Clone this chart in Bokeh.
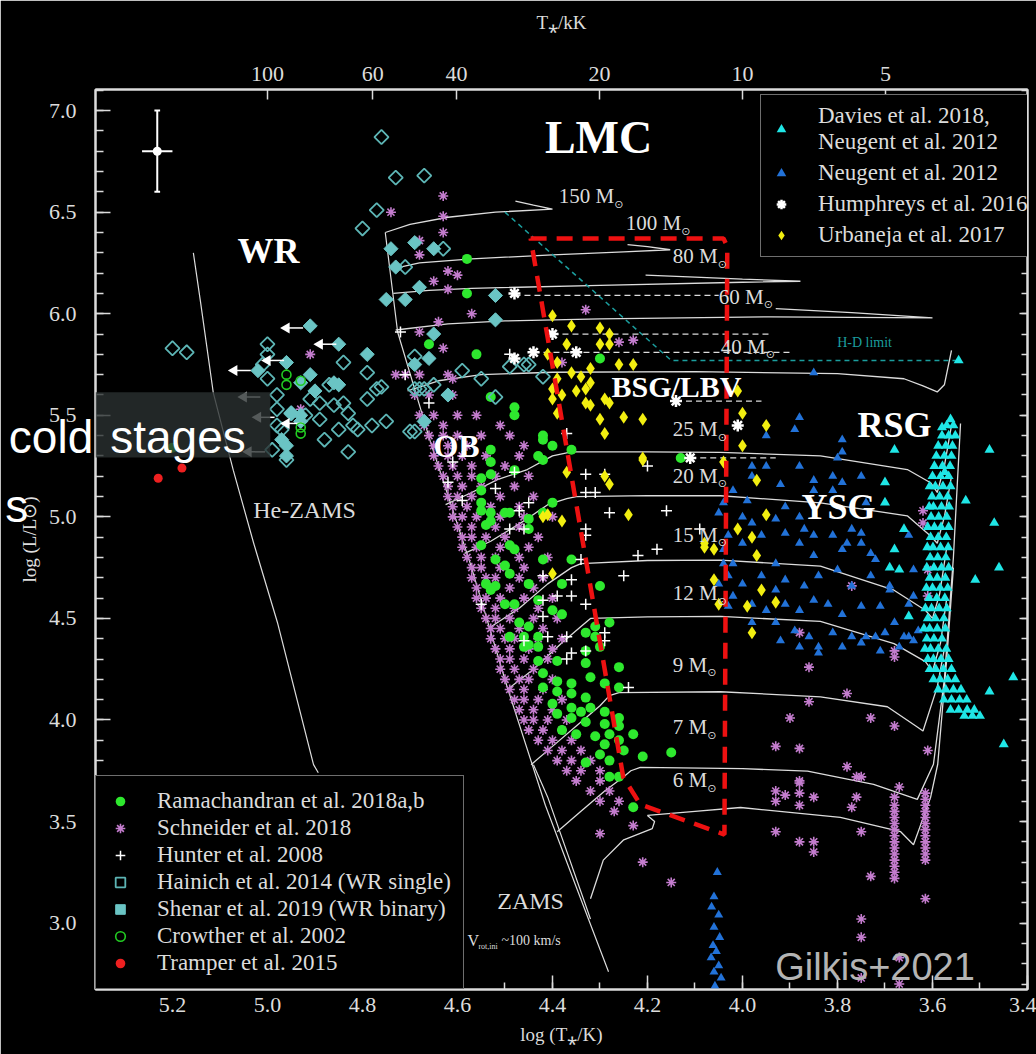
import numpy as np
from bokeh.plotting import figure
from bokeh.models import (Range1d, LinearAxis, FixedTicker, SingleIntervalTicker,
                          PrintfTickFormatter, Legend, LegendItem, Label, BoxAnnotation)
from bokeh.core.properties import value
from bokeh.embed import file_html
from bokeh.resources import INLINE

SERIF = "Liberation Serif"
SANS = "Liberation Sans"
FG = "#dcdcdc"

# ---------------- data (log Teff, log L) ----------------
ramachandran = [(4.48,5.50),(4.53,5.33),(4.53,5.27),(4.53,5.21),(4.55,5.19),(4.55,5.13),(4.55,5.07),
    (4.55,5.03),(4.53,5.02),(4.50,5.02),(4.49,5.02),(4.53,4.98),(4.54,4.96),(4.42,5.38),(4.40,5.35),
    (4.36,5.33),(4.42,5.28),(4.48,5.23),(4.40,5.07),(4.42,5.02),(4.45,4.99),(4.45,4.94),(4.55,4.86),
    (4.49,4.86),(4.48,4.84),(4.52,4.79),(4.50,4.76),(4.49,4.72),(4.54,4.67),(4.52,4.66),(4.53,4.64),
    (4.42,4.79),(4.36,4.79),(4.45,4.67),(4.38,4.67),(4.30,4.66),(4.43,4.59),(4.50,4.57),(4.48,4.57),
    (4.40,4.54),(4.38,4.52),(4.47,4.48),(4.45,4.46),(4.49,4.41),(4.46,4.41),(4.43,4.41),(4.46,4.36),
    (4.43,4.36),(4.31,4.46),(4.28,4.48),(4.33,4.43),(4.31,4.41),(4.33,4.34),(4.45,4.37),(4.30,4.36),
    (4.43,4.29),(4.39,4.29),(4.33,4.28),(4.26,4.26),(4.42,4.23),(4.39,4.19),(4.36,4.18),(4.32,4.21),
    (4.29,4.18),(4.26,4.16),(4.42,4.16),(4.39,4.14),(4.36,4.13),(4.33,4.11),(4.40,4.08),(4.36,4.06),
    (4.34,4.04),(4.32,4.06),(4.29,4.04),(4.39,4.03),(4.36,4.01),(4.33,3.99),(4.29,3.98),(4.26,4.01),
    (4.26,3.97),(4.38,3.95),(4.35,3.93),(4.31,3.92),(4.28,3.93),(4.23,3.93),(4.26,3.90),(4.29,3.88),
    (4.30,3.83),(4.33,3.79),(4.28,3.80),(4.21,3.82),(4.25,3.85),(4.15,3.84),(4.28,3.72),(4.26,3.72),
    (4.23,3.57),(4.30,5.78),(4.42,5.40),(4.43,5.30),(4.13,5.29),(4.58,6.27),(4.58,6.10),(4.66,5.85),
    (4.56,5.80),(4.53,5.59),(4.48,5.54),(5.20,5.34)]

schneider = [(4.71,5.70),(4.68,5.70),(4.62,5.70),(4.69,5.60),(4.66,5.60),(4.61,5.60),
    (4.68,5.50),(4.65,5.50),(4.60,5.50),(4.56,5.50),(4.67,5.45),(4.63,5.45),(4.51,5.45),
    (4.66,5.40),(4.63,5.40),(4.60,5.40),(4.55,5.40),(4.49,5.40),(4.65,5.35),(4.62,5.35),(4.58,5.35),(4.46,5.35),
    (4.65,5.30),(4.62,5.30),(4.59,5.30),(4.54,5.30),(4.47,5.30),(4.64,5.25),(4.61,5.25),(4.57,5.25),(4.50,5.25),
    (4.63,5.20),(4.60,5.20),(4.57,5.20),(4.52,5.20),(4.45,5.20),(4.62,5.15),(4.59,5.15),(4.55,5.15),(4.48,5.15),
    (4.62,5.10),(4.60,5.10),(4.57,5.10),(4.51,5.10),(4.44,5.10),(4.61,5.05),(4.58,5.05),(4.53,5.05),(4.47,5.05),
    (4.61,5.00),(4.59,5.00),(4.56,5.00),(4.51,5.00),(4.46,5.00),(4.40,5.00),(4.60,4.95),(4.57,4.95),(4.52,4.95),(4.47,4.95),
    (4.59,4.90),(4.57,4.90),(4.54,4.90),(4.50,4.90),(4.43,4.90),(4.59,4.85),(4.56,4.85),(4.51,4.85),(4.45,4.85),
    (4.58,4.80),(4.55,4.80),(4.52,4.80),(4.47,4.80),(4.41,4.80),(4.57,4.75),(4.55,4.75),(4.51,4.75),(4.46,4.75),
    (4.57,4.70),(4.54,4.70),(4.52,4.70),(4.47,4.70),(4.42,4.70),(4.56,4.65),(4.53,4.65),(4.49,4.65),(4.44,4.65),
    (4.56,4.60),(4.54,4.60),(4.51,4.60),(4.46,4.60),(4.40,4.60),(4.55,4.55),(4.52,4.55),(4.48,4.55),(4.43,4.55),
    (4.54,4.50),(4.52,4.50),(4.49,4.50),(4.44,4.50),(4.39,4.50),(4.53,4.45),(4.51,4.45),(4.47,4.45),(4.42,4.45),
    (4.53,4.40),(4.50,4.40),(4.48,4.40),(4.43,4.40),(4.38,4.40),(4.52,4.35),(4.49,4.35),(4.45,4.35),(4.40,4.35),
    (4.51,4.30),(4.49,4.30),(4.46,4.30),(4.41,4.30),(4.51,4.25),(4.48,4.25),(4.44,4.25),
    (4.50,4.20),(4.47,4.20),(4.45,4.20),(4.40,4.20),(4.49,4.15),(4.46,4.15),(4.42,4.15),
    (4.48,4.10),(4.46,4.10),(4.43,4.10),(4.38,4.10),(4.47,4.05),(4.44,4.05),(4.40,4.05),
    (4.46,4.00),(4.44,4.00),(4.41,4.00),(4.37,4.00),(4.45,3.95),(4.42,3.95),(4.38,3.95),
    (4.43,3.90),(4.40,3.90),(4.36,3.90),(4.41,3.85),(4.38,3.85),(4.34,3.85),(4.39,3.80),(4.36,3.80),(4.32,3.80),
    (4.37,3.75),(4.34,3.75),(4.30,3.75),(4.35,3.70),(4.30,3.70),(4.32,3.65),(4.28,3.65),(4.30,3.60),(4.26,3.60),
    (4.27,3.55),(4.23,3.48),(4.30,3.44),(4.21,3.30),(4.15,3.20),
    (4.63,6.58),(4.63,6.48),(4.63,6.40),(4.74,6.50),(4.68,6.36),(4.68,6.29),(4.62,6.21),(4.60,6.19),
    (4.62,6.12),(4.65,6.16),(4.57,6.00),(4.64,5.96),(4.68,5.91),(4.63,5.83),(4.73,5.70),(4.61,5.68),
    (4.33,6.02),(4.23,5.87),(4.26,5.86),(4.38,5.76),(4.91,5.80),(4.93,5.53),
    (3.77,4.66),(3.86,4.26),(3.88,4.43),(3.68,4.34),(3.68,4.31),(3.62,5.03),(3.62,4.97),(3.61,4.74),
    (3.61,4.61),(3.78,4.13),(3.86,4.09),(3.73,4.01),(3.90,4.01),(3.68,3.97),(3.93,3.87),(3.88,3.86),
    (3.78,3.77),(3.61,3.85),(3.75,3.72),(3.88,3.70),(3.93,3.65),(3.88,3.69),(3.88,3.64),(3.88,3.58),
    (3.85,3.62),(3.91,3.63),(3.93,3.60),(3.76,3.72),(3.76,3.62),(3.77,3.57),(3.67,3.67),(3.93,3.45),
    (3.88,3.40),(3.85,3.40),(3.85,3.35),(3.75,3.45),(3.73,3.23),(3.75,3.02),(3.75,2.93),(3.75,2.73),
    (3.67,2.70),(3.67,2.83),
    (3.68,3.62),(3.68,3.58),(3.68,3.55),(3.68,3.52),(3.68,3.49),(3.68,3.46),(3.68,3.43),(3.68,3.40),
    (3.68,3.37),(3.68,3.34),(3.68,3.31),(3.68,3.28),(3.68,3.25),(3.68,3.22),
    (3.615,3.64),(3.615,3.61),(3.615,3.58),(3.615,3.55),(3.615,3.52),(3.615,3.49),(3.615,3.46),
    (3.615,3.43),(3.615,3.40),(3.615,3.37),(3.615,3.34),(3.615,3.31),(3.615,3.12)]

hunter = [(4.37,5.41),(4.33,5.21),(4.29,5.21),(4.33,5.12),(4.31,5.12),(4.28,5.02),(4.16,5.03),
    (4.20,5.25),(4.33,4.94),(4.33,4.91),(4.18,4.84),(4.22,4.81),(4.25,4.71),(4.34,4.79),(4.36,4.69),
    (4.39,4.61),(4.36,4.61),(4.33,4.57),(4.42,4.51),(4.29,4.43),(4.29,4.39),(4.37,4.41),(4.41,4.41),
    (4.46,4.39),(4.49,4.94),(4.47,5.03),(4.48,5.22),(4.52,5.14),(4.62,5.17),(4.59,5.08),(4.61,5.27),
    (4.45,5.07),(4.46,4.94),(4.42,4.71),(4.55,4.57),(4.09,4.94),(4.33,4.34),(4.36,4.33),(4.24,4.16),
    (4.72,5.91),(4.71,5.70),(4.49,5.80),(4.66,5.56),(4.42,4.59),(4.37,4.30)]

hainich = [(4.76,6.87),(4.73,6.67),(4.67,6.68),(4.77,6.51),(4.80,6.42),(4.63,6.32),(4.71,6.23),
    (5.20,5.83),(5.17,5.81),(5.00,5.85),(5.00,5.80),(5.01,5.75),(5.00,5.68),(4.84,5.76),(4.79,5.71),
    (4.77,5.63),(4.79,5.58),(4.84,5.56),(4.83,5.51),(4.89,5.48),(4.88,5.38),(4.83,5.32),(4.85,5.43),
    (4.81,5.43),(4.78,5.45),(4.69,5.63),(4.67,5.63),(4.65,5.65),(4.69,5.42),(4.59,5.72),(4.55,5.68),
    (4.98,5.60),(4.98,5.53),(4.97,5.43),(4.96,5.28),(4.99,5.33),(4.91,5.58),(4.89,5.56),(4.86,5.55),
    (4.92,5.50),(4.95,5.51),(4.98,5.45),(4.87,5.65),(4.82,5.45),(4.49,5.74),(4.45,5.75),(4.69,5.79),
    (4.68,5.63),(4.76,5.64),(4.52,5.59),(4.75,5.47),(4.70,5.42),(4.46,5.75),(4.42,5.69)]

shenar = [(4.91,5.94),(4.85,5.85),(4.79,5.80),(4.96,5.76),(4.91,5.70),(4.93,5.66),(4.90,5.62),
    (4.86,5.66),(4.95,5.51),(4.93,5.47),(4.97,5.38),(4.96,5.30),(5.02,5.72),(4.85,5.65),(4.93,5.50),
    (4.96,5.35),(4.75,6.07),(4.71,6.07),(4.68,6.13),(4.65,5.90),(4.66,5.78),(4.69,5.75),(4.62,5.60),
    (4.67,5.47),(4.74,6.32),(4.69,6.35),(4.65,6.32),(4.73,6.23),(4.52,6.09),(4.52,5.97)]

crowther = [(4.96,5.70),(4.96,5.65),(4.93,5.67),(4.93,5.44),(4.93,5.41)]
tramper = [(5.23,5.19),(5.18,5.24)]
wr_limits = [(4.96,5.93),(4.89,5.85),(5.00,5.77),(5.07,5.72),(5.05,5.59),(5.02,5.49),(5.04,5.32),(4.96,5.46)]

davies = [(3.556,5.45),(3.570,5.45),(3.552,5.40),(3.566,5.40),(3.580,5.40),(3.558,5.35),(3.572,5.35),(3.588,5.35),
    (3.560,5.30),(3.575,5.30),(3.592,5.30),(3.563,5.25),(3.579,5.25),(3.596,5.25),(3.566,5.20),(3.583,5.20),
    (3.600,5.20),(3.574,5.22),(3.562,5.15),(3.578,5.15),(3.594,5.15),(3.606,5.15),(3.568,5.10),(3.585,5.10),
    (3.601,5.10),(3.565,5.05),(3.581,5.05),(3.598,5.05),(3.607,5.05),(3.570,5.00),(3.587,5.00),(3.603,5.00),
    (3.566,4.95),(3.582,4.95),(3.596,4.95),(3.610,4.95),(3.571,4.90),(3.588,4.90),(3.604,4.90),(3.567,4.85),
    (3.583,4.85),(3.599,4.85),(3.611,4.85),(3.572,4.80),(3.589,4.80),(3.605,4.80),(3.566,4.75),(3.581,4.75),
    (3.597,4.75),(3.612,4.75),(3.573,4.70),(3.590,4.70),(3.606,4.70),(3.568,4.65),(3.584,4.65),(3.600,4.65),
    (3.613,4.65),(3.574,4.60),(3.591,4.60),(3.607,4.60),(3.570,4.55),(3.586,4.55),(3.602,4.55),(3.615,4.55),
    (3.576,4.50),(3.594,4.50),(3.610,4.50),(3.573,4.45),(3.590,4.45),(3.606,4.45),(3.618,4.45),(3.580,4.40),
    (3.597,4.40),(3.612,4.40),(3.571,4.35),(3.588,4.35),(3.604,4.35),(3.616,4.35),(3.566,4.30),(3.582,4.30),
    (3.598,4.30),(3.610,4.30),(3.560,4.25),(3.577,4.25),(3.593,4.25),(3.606,4.25),(3.552,4.20),(3.568,4.20),
    (3.584,4.20),(3.598,4.20),(3.540,4.15),(3.556,4.15),(3.572,4.15),(3.588,4.15),(3.528,4.10),(3.543,4.10),
    (3.560,4.10),(3.576,4.10),(3.512,4.05),(3.527,4.05),(3.545,4.05),(3.562,4.05),(3.500,4.02),(3.516,4.02),
    (3.533,4.02),
    (3.545,5.77),(3.562,5.48),(3.58,5.44),(3.48,5.33),(3.68,5.33),(3.70,5.17),(3.53,5.08),(3.70,5.07),
    (3.47,4.97),(3.68,4.84),(3.69,4.75),(3.67,4.74),(3.51,4.69),(3.46,4.75),(3.65,4.51),(3.43,4.21),
    (3.48,4.14),(3.45,3.88),(3.66,4.94)]

neugent = [(3.88,5.49),(3.95,5.40),(3.89,5.43),(3.95,5.25),(3.98,5.25),(3.98,5.20),(4.02,5.13),(4.04,5.07),
    (3.99,5.08),(3.92,5.16),(3.88,5.25),(3.85,5.18),(3.81,5.20),(3.79,5.38),(3.79,5.32),(3.81,5.13),
    (3.85,5.13),(3.91,5.05),(3.88,5.00),(4.00,5.00),(3.98,4.97),(3.93,4.99),(4.03,4.91),(4.00,4.87),
    (3.96,4.91),(3.91,4.92),(3.88,4.87),(3.85,4.91),(3.81,4.91),(3.77,4.94),(3.79,4.84),(3.75,4.87),
    (3.85,4.81),(3.93,4.77),(4.02,4.77),(4.03,4.71),(4.00,4.67),(3.96,4.71),(3.93,4.64),(3.91,4.69),
    (3.87,4.66),(3.84,4.71),(3.80,4.74),(3.77,4.66),(3.73,4.71),(3.69,4.64),(3.65,4.57),(4.02,4.61),
    (3.98,4.57),(3.95,4.54),(3.91,4.57),(3.88,4.54),(3.85,4.59),(3.82,4.57),(3.79,4.52),(3.75,4.56),
    (3.71,4.56),(3.98,4.48),(3.93,4.48),(3.89,4.44),(3.86,4.41),(3.81,4.43),(3.77,4.41),(3.74,4.41),
    (3.70,4.43),(3.66,4.41),(3.63,4.44),(3.92,4.39),(3.88,4.36),(3.84,4.36),(3.79,4.36),(3.75,4.38),
    (3.71,4.34),(3.67,4.36),(3.64,4.39),(3.84,4.33),(3.80,5.29),(3.79,5.17),(3.75,5.20),(3.74,5.07),
    (3.87,4.94),(3.78,4.87),(3.75,4.92),(3.73,4.82),(3.65,4.91),(3.72,4.79),(3.64,4.74),(3.69,4.66),
    (3.64,4.61),(3.68,4.48),(3.72,4.41),(3.65,4.41),(4.05,5.02),(4.04,4.77),(4.04,4.84),(4.05,4.67),
    (4.03,4.56),(3.85,5.71),
    (4.053,3.25),(4.06,3.13),(4.065,3.08),(4.05,3.04),(4.06,2.98),(4.048,2.93),(4.062,2.89),(4.055,2.86),
    (4.066,2.83),(4.05,2.79),(4.06,2.76),(4.045,2.73),(4.058,2.69)]

humphreys = [(4.48,6.10),(4.40,5.90),(4.44,5.81),(4.35,5.81),(4.48,5.78),(4.14,5.57),(4.01,5.45),(4.11,5.29)]

urbaneja = [(4.40,5.99),(4.36,5.94),(4.30,5.93),(4.28,5.85),(4.30,5.85),(4.37,5.85),(4.41,5.80),
    (4.26,5.75),(4.23,5.75),(4.36,5.71),(4.34,5.69),(4.32,5.66),(4.40,5.63),(4.38,5.60),(4.35,5.62),
    (4.29,5.58),(4.33,5.56),(4.32,5.55),(4.28,5.56),(4.39,5.51),(4.30,5.48),(4.25,5.49),(4.21,5.48),
    (4.29,5.41),(4.01,5.62),(4.00,5.51),(3.95,5.45),(4.00,5.35),(4.21,5.29),(4.04,5.27),(3.97,5.18),
    (4.29,5.20),(4.28,5.16),(4.37,5.22),(4.24,5.01),(3.95,5.01),(4.38,4.98),(4.41,5.01),(4.01,4.94),
    (4.08,4.85),(4.06,4.84),(3.98,4.90),(3.97,4.81),(4.40,4.72),(4.06,4.69),(4.05,4.57),(3.96,4.64),
    (3.99,4.56),(3.98,4.43),(3.93,4.58),(4.39,5.76),(4.32,5.73),(4.39,5.68),(4.33,5.63),(4.40,5.58),
    (4.28,5.90),(4.21,5.28),(4.42,5.00),(4.08,4.87)]

# evolutionary tracks (label, label position)
track_masses = ["150", "100", "80", "60", "40", "25", "20", "15", "12", "9", "7", "6"]
track_label_x = [4.387, 4.246, 4.147, 4.050, 4.046, 4.147, 4.147, 4.147, 4.147, 4.147, 4.147, 4.147]
track_label_y = [6.579, 6.446, 6.282, 6.084, 5.837, 5.431, 5.203, 4.911, 4.624, 4.272, 3.965, 3.703]
trk_150 = [(4.752,6.40),(4.70,6.44),(4.62,6.475),(4.52,6.50),(4.40,6.515),(4.44,6.535),(4.478,6.555)]
trk_100 = [(4.74,6.22),(4.68,6.25),(4.57,6.27),(4.40,6.29),(4.25,6.305),(4.152,6.315),(4.20,6.33),(4.242,6.34)]
trk_80 = [(4.735,6.10),(4.66,6.115),(4.57,6.125),(4.30,6.14),(4.00,6.155),(3.878,6.16),(4.00,6.17),(4.10,6.18),(4.204,6.19)]
trk_60 = [(4.73,5.92),(4.62,5.95),(4.50,5.965),(4.30,5.975),(3.94,5.985),(3.60,5.98),(3.77,6.005),(3.93,6.025)]
trk_40 = [(4.705,5.62),(4.64,5.67),(4.55,5.70),(4.40,5.712),(4.10,5.715),(3.80,5.705),(3.66,5.68),(3.62,5.645),
          (3.59,5.615),(3.575,5.65),(3.56,5.82)]
trk_25 = [(4.625,5.06),(4.57,5.12),(4.516,5.183),(4.453,5.233),(4.40,5.30),(4.36,5.32),(4.20,5.32),(4.046,5.317),
          (3.836,5.30),(3.653,5.233),(3.604,5.168),(3.59,5.12),(3.575,5.25),(3.56,5.45)]
trk_20 = [(4.585,4.82),(4.53,4.88),(4.46,4.98),(4.41,5.06),(4.37,5.09),(4.35,5.10),(4.20,5.105),(4.046,5.104),
          (3.836,5.069),(3.653,5.005),(3.604,4.906),(3.59,4.87),(3.575,5.00),(3.56,5.20)]
trk_15 = [(4.535,4.45),(4.47,4.55),(4.41,4.67),(4.36,4.75),(4.34,4.77),(4.20,4.785),(4.046,4.787),(3.836,4.757),
          (3.681,4.639),(3.615,4.54),(3.60,4.50),(3.585,4.62),(3.57,4.85)]
trk_12 = [(4.495,4.15),(4.44,4.25),(4.38,4.38),(4.34,4.46),(4.32,4.50),(4.20,4.508),(4.046,4.51),(3.836,4.485),
          (3.681,4.376),(3.615,4.287),(3.60,4.24),(3.583,4.38),(3.57,4.60)]
trk_9 = [(4.445,3.78),(4.40,3.87),(4.34,3.99),(4.30,4.07),(4.28,4.12),(4.26,4.135),(4.046,4.139),(3.836,4.114),
         (3.695,4.065),(3.632,3.965),(3.62,3.946),(3.59,4.163),(3.575,4.35)]
trk_7 = [(4.39,3.45),(4.34,3.55),(4.29,3.65),(4.25,3.72),(4.235,3.75),(4.215,3.767),(4.00,3.76),(3.863,3.748),
         (3.724,3.683),(3.632,3.609),(3.598,3.782),(3.575,4.20),(3.556,4.80),(3.541,5.46)]
trk_6 = [(4.32,3.12),(4.293,3.31),(4.25,3.41),(4.19,3.465),(4.185,3.50),(4.20,3.53),(4.10,3.55),(4.004,3.569),
         (3.794,3.52),(3.667,3.45),(3.64,3.386),(3.604,3.619),(3.589,3.782),(3.570,4.30),(3.556,4.75)]
tracks = [trk_150, trk_100, trk_80, trk_60, trk_40, trk_25, trk_20, trk_15, trk_12, trk_9, trk_7, trk_6]

zams = [(4.752,6.40),(4.726,5.91),(4.657,5.37),(4.573,4.77),(4.495,4.16),(4.415,3.58),(4.352,3.19),(4.282,2.76)]
zams_rot = [(4.44,3.78),(4.41,3.62),(4.32,3.02)]
he_zams = [(5.156,6.30),(5.141,6.06),(5.114,5.61),(5.072,5.23),(5.029,4.87),(4.979,4.48),(4.903,3.78),(4.893,3.74)]
hd_limit = [(4.50,6.50),(4.15,5.77),(3.54,5.77)]
dash_x = [[4.48, 4.05], [4.40, 3.94], [4.44, 3.90], [4.14, 3.96], [4.11, 3.93]]
dash_y = [[6.09, 6.09], [5.90, 5.90], [5.81, 5.81], [5.57, 5.57], [5.29, 5.29]]
red_box = [(4.446,6.371),(4.040,6.371),(4.032,6.33),(4.038,3.436),(4.215,3.584),(4.251,3.718),(4.446,6.371)]

errbar_x, errbar_y, errbar_dx, errbar_dy = [5.232], [6.80], [0.032], [0.20]

region_names = ["LMC", "WR", "OB", "BSG/LBV", "RSG", "YSG"]
region_x = [4.303, 4.998, 4.602, 4.139, 3.680, 3.798]
region_y = [6.866, 6.307, 5.351, 5.644, 5.450, 5.050]
region_size = ["46px", "36px", "32px", "30px", "36px", "36px"]

top_T_kK = [100, 60, 40, 20, 10, 5]


def xy(pts):
    a = np.array(pts, dtype=float)
    return a[:, 0], a[:, 1]


# ---------------- figure ----------------
p = figure(width=1036, height=1054, output_backend="svg", toolbar_location=None,
           x_range=Range1d(5.362, 3.4), y_range=Range1d(2.673, 7.104),
           background_fill_color="black", border_fill_color="black",
           min_border_left=95, min_border_right=9, min_border_top=89, min_border_bottom=65,
           x_axis_label="log (T⁎/K)", y_axis_label="log (L/L⊙)")
p.grid.visible = False
p.outline_line_color = FG
p.outline_line_width = 2


def style_axis(ax, major_in, minor_in):
    ax.axis_line_color = FG
    ax.axis_line_width = 2
    ax.major_tick_line_color = FG
    ax.minor_tick_line_color = FG
    ax.major_tick_line_width = 1.5
    ax.minor_tick_line_width = 1.5
    ax.major_tick_in = major_in
    ax.major_tick_out = 0
    ax.minor_tick_in = minor_in
    ax.minor_tick_out = 0
    ax.major_label_text_color = FG
    ax.major_label_text_font = SERIF
    ax.major_label_text_font_size = "22px"
    ax.axis_label_text_color = FG
    ax.axis_label_text_font = SERIF
    ax.axis_label_text_font_size = "19px"
    ax.axis_label_text_font_style = "normal"


xa = p.xaxis[0]
xa.ticker = SingleIntervalTicker(interval=0.2, num_minor_ticks=2)
xa.formatter = PrintfTickFormatter(format="%.1f")
style_axis(xa, 14, 7)
xa.major_label_standoff = 8
xa.axis_label_standoff = 9

ya = p.yaxis[0]
ya.ticker = SingleIntervalTicker(interval=0.5, num_minor_ticks=5)
ya.formatter = PrintfTickFormatter(format="%.1f")
style_axis(ya, 15, 8)
ya.major_label_standoff = 19
ya.axis_label_standoff = 6

tticks = [float(np.log10(t * 1000.0)) for t in top_T_kK]
top = LinearAxis(ticker=FixedTicker(ticks=tticks, minor_ticks=[]),
                 major_label_overrides={tv: str(t) for tv, t in zip(tticks, top_T_kK)},
                 axis_label="T⁎/kK")
style_axis(top, 10, 0)
top.major_label_standoff = 9
top.axis_label_standoff = 31
p.add_layout(top, "above")

right = LinearAxis(ticker=SingleIntervalTicker(interval=0.5, num_minor_ticks=5))
style_axis(right, 8, 6)
right.major_label_text_color = None
right.major_label_text_font_size = "8px"
right.major_label_standoff = 0
p.add_layout(right, "right")

# lines
trk_xs = [list(xy(t)[0]) for t in tracks]
trk_ys = [list(xy(t)[1]) for t in tracks]
p.multi_line(trk_xs, trk_ys, line_color=FG, line_width=1.3)
for ln in (zams, zams_rot, he_zams):
    lx, ly = xy(ln)
    p.line(lx, ly, line_color=FG, line_width=1.2)
hx, hy = xy(hd_limit)
p.line(hx, hy, line_color="#1b9e9e", line_width=1.5, line_dash="5 4")
p.multi_line(dash_x, dash_y, line_color=FG, line_width=1.3, line_dash="6 4")

# error bar
ex, ey = np.array(errbar_x), np.array(errbar_y)
edx, edy = np.array(errbar_dx), np.array(errbar_dy)
p.segment(ex, ey - edy, ex, ey + edy, line_color="white", line_width=2)
p.segment(ex - edx, ey, ex + edx, ey, line_color="white", line_width=2)
p.segment(ex - 0.006, ey + edy, ex + 0.006, ey + edy, line_color="white", line_width=2)
p.segment(ex - 0.006, ey - edy, ex + 0.006, ey - edy, line_color="white", line_width=2)
p.scatter(ex, ey, marker="circle", size=9, fill_color="white", line_color=None)

# scatter series
x, y = xy(schneider)
r_sch = p.scatter(x, y, marker="asterisk", size=10, line_color="#c37ccd", line_width=1.6)
x, y = xy(ramachandran)
r_ram = p.scatter(x, y, marker="circle", size=10, fill_color="#2ee82e", line_color=None)
x, y = xy(hunter)
r_hun = p.scatter(x, y, marker="cross", size=11, line_color="white", line_width=1.5)
x, y = xy(hainich)
r_hai = p.scatter(x, y, marker="square", angle=np.pi / 4, size=10, fill_color=None,
                  line_color="#5db5b5", line_width=1.8)
x, y = xy(shenar)
r_she = p.scatter(x, y, marker="square", angle=np.pi / 4, size=10, fill_color="#6ac4c4",
                  line_color="#6ac4c4")
x, y = xy(wr_limits)
p.segment(x, y, x - 0.035, y, line_color="white", line_width=1.5)
p.scatter(x, y, marker="triangle", angle=np.pi / 2, size=11, fill_color="white", line_color=None)
x, y = xy(neugent)
r_neu = p.scatter(x, y, marker="triangle", size=9, fill_color="#2272d8", line_color=None)
x, y = xy(davies)
r_dav = p.scatter(x, y, marker="triangle", size=10, fill_color="#1fe6e6", line_color=None)
x, y = xy(urbaneja)
r_urb = p.scatter(x, y, marker="diamond", size=13, fill_color="#f2ee10", line_color=None)
x, y = xy(humphreys)
r_hum = p.scatter(x, y, marker="asterisk", size=12, line_color="white", line_width=2.5)
x, y = xy(crowther)
r_cro = p.scatter(x, y, marker="circle", size=9, fill_color=None, line_color="#22cc22", line_width=1.6)
x, y = xy(tramper)
r_tra = p.scatter(x, y, marker="circle", size=9, fill_color="#ee2020", line_color=None)

# red dashed region
rx, ry = xy(red_box)
p.line(rx, ry, line_color="#ee1111", line_width=4.5, line_dash="16 10")

# texts
p.text(region_x, region_y, text=region_names, text_font=value(SERIF), text_font_style="bold",
       text_font_size=region_size, text_color="white", text_align="center", text_baseline="middle")
p.text([4.922, 4.446], [5.035, 3.109], text=["He-ZAMS", "ZAMS"], text_font=value(SERIF),
       text_font_size="24px", text_color=FG, text_align="center", text_baseline="middle")
p.text([3.743], [5.857], text=["H-D limit"], text_font=value(SERIF), text_font_size="14px",
       text_color="#1b9e9e", text_align="center", text_baseline="middle")
p.text([4.579], [2.916], text=["V"], text_font=value(SERIF), text_font_size="16px",
       text_color=FG, text_align="left", text_baseline="middle")
p.text([4.579], [2.916], text=["rot,ini"], text_font=value(SERIF), text_font_size="8px",
       text_color=FG, text_align="left", text_baseline="middle", x_offset=11, y_offset=6)
p.text([4.579], [2.916], text=["~100 km/s"], text_font=value(SERIF), text_font_size="14px",
       text_color=FG, text_align="left", text_baseline="middle", x_offset=34)

mass_text = [m + " M" for m in track_masses]
sun_off = [len(m) * 10.5 + 24 for m in track_masses]
p.text(track_label_x, track_label_y, text=mass_text, text_font=value(SERIF), text_font_size="21px",
       text_color=FG, text_align="left", text_baseline="middle")
p.text(track_label_x, track_label_y, text=["⊙"] * len(track_masses), text_font=value("DejaVu Sans"),
       text_font_size="11px", text_color=FG, text_align="left", text_baseline="middle",
       x_offset=sun_off, y_offset=8)

# slide overlay
p.add_layout(BoxAnnotation(left=5.362, right=4.994, bottom=5.292, top=5.614,
                           fill_color="#2a3131", fill_alpha=0.8, line_color=None))
overlay_anchor_x = [5.331]
p.text(overlay_anchor_x, [5.391], text=["stages"], text_font=value(SANS), text_font_size="46px",
       text_color="white", text_align="left", text_baseline="alphabetic", level="overlay")
p.text(overlay_anchor_x, [5.391], text=["cold"], text_font=value(SANS), text_font_size="46px",
       text_color="white", text_align="right", text_baseline="alphabetic", x_offset=-17,
       level="overlay")
p.text(overlay_anchor_x, [5.054], text=["s"], text_font=value(SANS), text_font_size="46px",
       text_color="white", text_align="left", text_baseline="alphabetic", x_offset=-105,
       level="overlay")
p.add_layout(Label(x=3.931, y=2.782, text="Gilkis+2021", text_font=SANS, text_font_size="38px",
                   text_color="#b4b4b4", text_baseline="alphabetic"))

# legends
common = dict(background_fill_color="black", background_fill_alpha=1.0, border_line_color=FG,
              border_line_width=1.5, label_text_font=SERIF, label_text_font_size="23px",
              label_text_color=FG, glyph_width=24, glyph_height=24, label_height=24,
              label_standoff=25, margin=0)
leg_bl = Legend(items=[
    LegendItem(label="Ramachandran et al. 2018a,b", renderers=[r_ram]),
    LegendItem(label="Schneider et al. 2018", renderers=[r_sch]),
    LegendItem(label="Hunter et al. 2008", renderers=[r_hun]),
    LegendItem(label="Hainich et al. 2014 (WR single)", renderers=[r_hai]),
    LegendItem(label="Shenar et al. 2019 (WR binary)", renderers=[r_she]),
    LegendItem(label="Crowther et al. 2002", renderers=[r_cro]),
    LegendItem(label="Tramper et al. 2015", renderers=[r_tra]),
], location=(0, 0), padding=12, spacing=1, label_width=290, **common)
p.add_layout(leg_bl)
leg_tr = Legend(items=[
    LegendItem(label="Davies et al. 2018,\nNeugent et al. 2012", renderers=[r_dav]),
    LegendItem(label="Neugent et al. 2012", renderers=[r_neu]),
    LegendItem(label="Humphreys et al. 2016", renderers=[r_hum]),
    LegendItem(label="Urbaneja et al. 2017", renderers=[r_urb]),
], location=(665, 732), padding=8, spacing=5, label_width=200, **common)
p.add_layout(leg_tr)

open("out.html", "w").write(file_html(p, INLINE))
